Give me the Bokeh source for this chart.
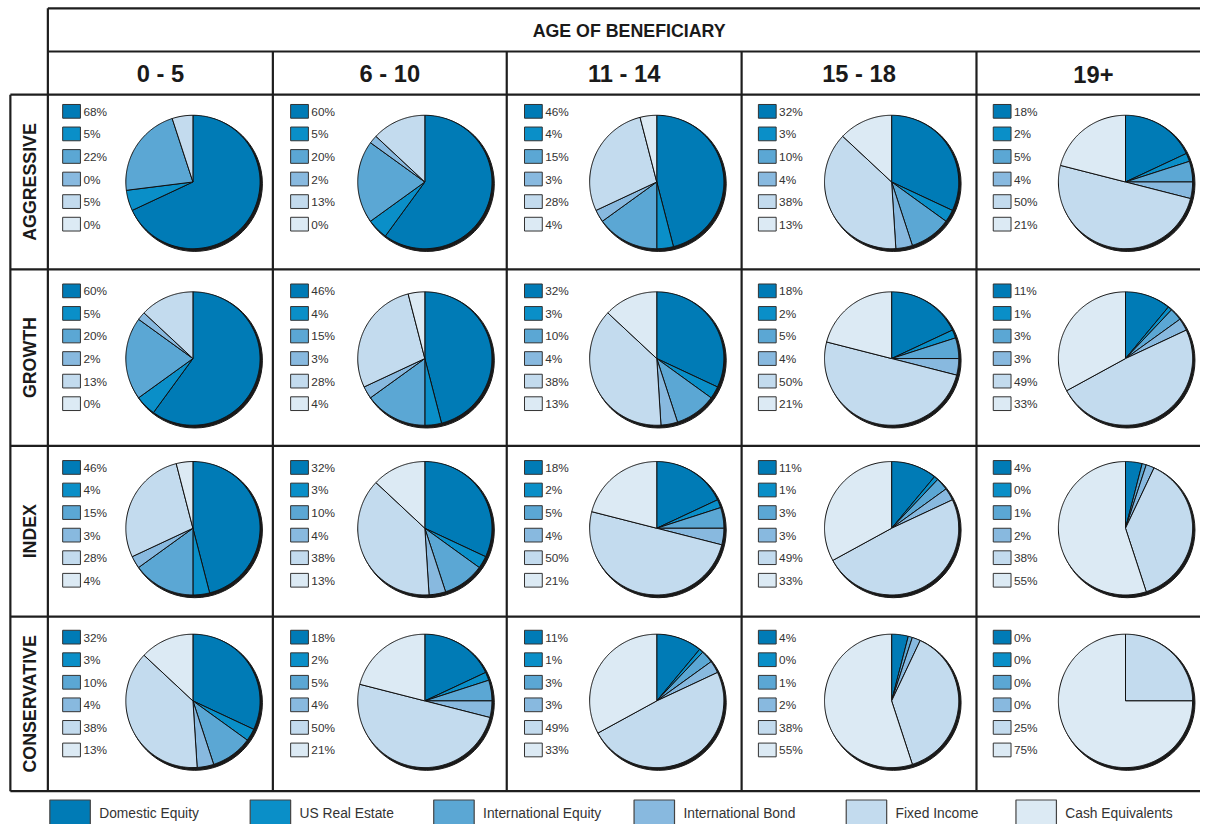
import numpy as np
from bokeh.plotting import figure
from bokeh.models import Range1d
from bokeh.core.properties import value
from bokeh.embed import file_html
from bokeh.resources import INLINE

# ---------------- data ----------------
asset_classes = ["Domestic Equity", "US Real Estate", "International Equity",
                 "International Bond", "Fixed Income", "Cash Equivalents"]
age_groups = ["0 - 5", "6 - 10", "11 - 14", "15 - 18", "19+"]
profiles = ["AGGRESSIVE", "GROWTH", "INDEX", "CONSERVATIVE"]

aggressive = [[68, 5, 22, 0, 5, 0], [60, 5, 20, 2, 13, 0], [46, 4, 15, 3, 28, 4],
              [32, 3, 10, 4, 38, 13], [18, 2, 5, 4, 50, 21]]
growth = [[60, 5, 20, 2, 13, 0], [46, 4, 15, 3, 28, 4], [32, 3, 10, 4, 38, 13],
          [18, 2, 5, 4, 50, 21], [11, 1, 3, 3, 49, 33]]
index_ = [[46, 4, 15, 3, 28, 4], [32, 3, 10, 4, 38, 13], [18, 2, 5, 4, 50, 21],
          [11, 1, 3, 3, 49, 33], [4, 0, 1, 2, 38, 55]]
conservative = [[32, 3, 10, 4, 38, 13], [18, 2, 5, 4, 50, 21], [11, 1, 3, 3, 49, 33],
                [4, 0, 1, 2, 38, 55], [0, 0, 0, 0, 25, 75]]
allocations = [aggressive, growth, index_, conservative]

colors = ["#007bb6", "#0a8fc8", "#5ba7d4", "#88b9df", "#c3dbee", "#dceaf4"]

# ---------------- layout (reference-image pixels, scaled to fit) ----------------
W, H = 1200, 824
REF_W, REF_H = 1216, 840
S = W / REF_W
col_edges = [48, 276, 513, 751, 989, 1226]
row_edges = [96, 274, 454, 628, 806]
pie_cx = [195, 430, 665, 903, 1140]
pie_cy = [185, 365, 538, 714]
sq_x = [63, 294, 531, 768, 1006]
sq_y0 = [106, 289, 469, 642]
R = 68
SQ_W, SQ_H, SQ_STEP = 18, 14, 23
legend_x = [50, 253, 439, 642, 857, 1029]

def fs(px):
    return f"{px * S:.1f}px"

p = figure(width=W, height=H, x_range=Range1d(0, REF_W), y_range=Range1d(REF_H, 0),
           output_backend="svg", toolbar_location=None, min_border=0,
           x_axis_type=None, y_axis_type=None)
p.grid.visible = False
p.outline_line_color = None
p.background_fill_color = "white"
p.border_fill_color = "white"

FONT = value("Liberation Sans")
LINE = "#1e1e1e"

# ---------------- pies ----------------
sx, sy = [], []
xs, ys, fc = [], [], []
for ri, prof in enumerate(allocations):
    for ci, vals in enumerate(prof):
        cx, cy = pie_cx[ci], pie_cy[ri]
        sx.append(cx + 1.8)
        sy.append(cy + 1.8)
        total = float(sum(vals))
        cum = 0.0
        for k, v in enumerate(vals):
            if v <= 0:
                continue
            a0 = cum / total * 2 * np.pi
            a1 = (cum + v) / total * 2 * np.pi
            cum += v
            n = max(3, int(v * 4) + 2)
            a = np.linspace(a0, a1, n)
            px = np.concatenate([[cx], cx + R * np.sin(a)])
            py = np.concatenate([[cy], cy - R * np.cos(a)])
            xs.append(list(px))
            ys.append(list(py))
            fc.append(colors[k])

p.circle(x=sx, y=sy, radius=R + 0.6, fill_color="#1a1a1a", line_color="#1a1a1a", line_width=1)
p.patches(xs=xs, ys=ys, fill_color=fc, line_color="#111111", line_width=1, line_join="round")

# ---------------- cell legends ----------------
ql, qr, qt, qb, qc = [], [], [], [], []
tx, ty, tt = [], [], []
for ri, prof in enumerate(allocations):
    for ci, vals in enumerate(prof):
        for k, v in enumerate(vals):
            top = sq_y0[ri] + k * SQ_STEP
            ql.append(sq_x[ci]); qr.append(sq_x[ci] + SQ_W)
            qt.append(top); qb.append(top + SQ_H)
            qc.append(colors[k])
            tx.append(sq_x[ci] + SQ_W + 3)
            ty.append(top + SQ_H / 2 + 0.5)
            tt.append(f"{v}%")
p.quad(left=ql, right=qr, top=qt, bottom=qb, fill_color=qc, line_color="#333333", line_width=1)
p.text(x=tx, y=ty, text=tt, text_font=FONT, text_font_size=fs(12), text_color="#333333",
       text_align="left", text_baseline="middle")

# ---------------- table lines ----------------
x0s, y0s, x1s, y1s = [], [], [], []
def seg(a, b, c, d):
    x0s.append(a); y0s.append(b); x1s.append(c); y1s.append(d)

right = col_edges[-1] + 10
seg(48, 8, right, 8)
seg(48, 8, 48, row_edges[-1])
seg(48, 52, right, 52)
seg(10, row_edges[0], 10, row_edges[-1])
for ye in row_edges:
    seg(10, ye, right, ye)
for xe in col_edges[1:-1]:
    seg(xe, 52, xe, row_edges[-1])
p.segment(x0=x0s, y0=y0s, x1=x1s, y1=y1s, line_color=LINE, line_width=2.2)

# ---------------- headers ----------------
p.text(x=[(col_edges[0] + col_edges[-1]) / 2], y=[31], text=["AGE OF BENEFICIARY"],
       text_font=FONT, text_font_style="bold", text_font_size=fs(18), text_color="#1a1a1a",
       text_align="center", text_baseline="middle")
hcx = [(col_edges[i] + col_edges[i + 1]) / 2 for i in range(len(age_groups))]
p.text(x=hcx, y=[75] * len(age_groups), text=age_groups, text_font=FONT,
       text_font_style="bold", text_font_size=fs(24), text_color="#1a1a1a",
       text_align="center", text_baseline="middle")
rcy = [(row_edges[i] + row_edges[i + 1]) / 2 for i in range(len(profiles))]
p.text(x=[30] * len(profiles), y=rcy, text=profiles, angle=np.pi / 2, text_font=FONT,
       text_font_style="bold", text_font_size=fs(18), text_color="#1a1a1a",
       text_align="center", text_baseline="middle")

# ---------------- bottom legend ----------------
p.quad(left=legend_x, right=[x + 41 for x in legend_x], top=[815] * 6, bottom=[850] * 6,
       fill_color=colors, line_color="#444444", line_width=1.2)
p.text(x=[x + 50 for x in legend_x], y=[829] * 6, text=asset_classes, text_font=FONT,
       text_font_size=fs(14), text_color="#333333", text_align="left", text_baseline="middle")

open("out.html", "w").write(file_html(p, INLINE))
